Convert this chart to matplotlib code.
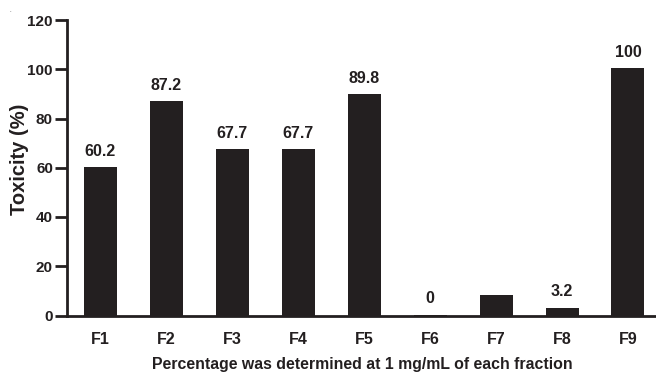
import matplotlib
matplotlib.use("Agg")
import matplotlib.pyplot as plt

categories = ["F1", "F2", "F3", "F4", "F5", "F6", "F7", "F8", "F9"]
values = [60.2, 87.2, 67.7, 67.7, 89.8, 0.4, 8.5, 3.2, 100.5]
labels = ["60.2", "87.2", "67.7", "67.7", "89.8", "0", "", "3.2", "100"]
yticks = [0, 20, 40, 60, 80, 100, 120]

plt.rcParams['font.family'] = ['Liberation Sans', 'DejaVu Sans']
plt.rcParams['font.weight'] = 'bold'

col = "#231f20"
W, H = 656, 374
fig = plt.figure(figsize=(W / 100, H / 100), dpi=100)
ax = fig.add_axes([67 / W, 1 - 315.5 / H, (656 - 67) / W, (315.5 - 20) / H])
x = list(range(len(categories)))
ax.bar(x, values, width=0.5, color=col)
for xi, v, lab in zip(x, values, labels):
    if lab:
        ax.text(xi, max(v, 0) + 3.3, lab, ha='center', va='bottom',
                fontsize=11.5, fontweight='bold', color=col)

ax.set_xlim(-0.508, 8.425)
ax.set_ylim(0, 120)
ax.set_yticks(yticks)
ax.set_xticks(x)
ax.set_xticklabels(categories)
ax.tick_params(axis='y', direction='out', length=8.6, width=2, color=col,
               labelsize=11, labelcolor=col, pad=1.5)
ax.tick_params(axis='x', length=0, labelsize=11.5, labelcolor=col, pad=12)
for lab in ax.get_xticklabels() + ax.get_yticklabels():
    lab.set_fontweight('bold')
for s in ['top', 'right']:
    ax.spines[s].set_visible(False)
for s in ['left', 'bottom']:
    ax.spines[s].set_linewidth(2)
    ax.spines[s].set_color(col)

fig.text(19.5 / W, 1 - 159 / H, "Toxicity (%)", rotation=90, ha='center', va='center',
         fontsize=14.5, fontweight='bold', color=col)
fig.text(362 / W, 1 - 369 / H, "Percentage was determined at 1 mg/mL of each fraction",
         ha='center', va='baseline', fontsize=11.4, fontweight='bold', color=col)
fig.text(10 / W, 1 - 10 / H, ".", ha='center', va='center', fontsize=4, color='#888888')
fig.savefig("out.png", dpi=100)
